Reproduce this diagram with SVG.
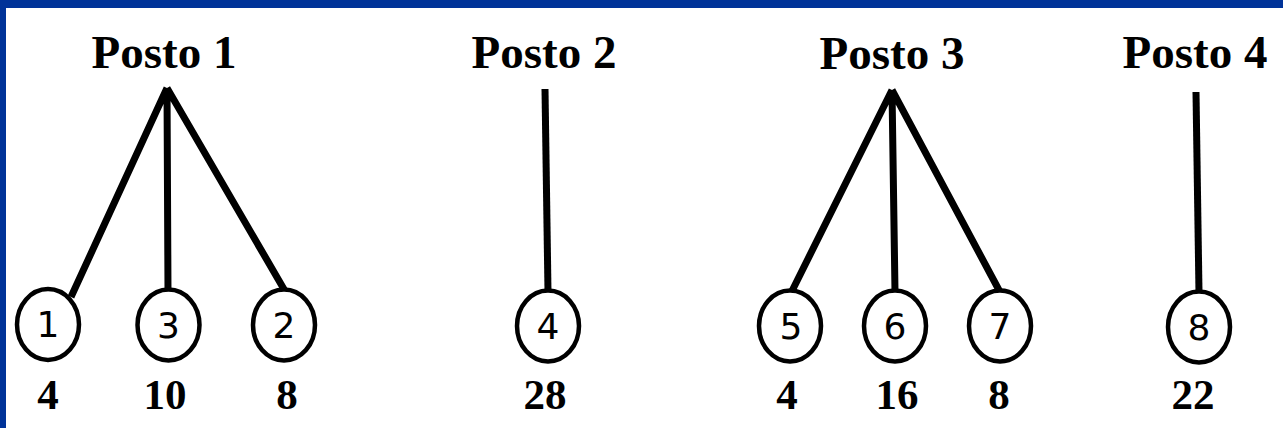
<svg xmlns="http://www.w3.org/2000/svg" width="1283" height="428" viewBox="0 0 1283 428">
<style>
.title{font-family:"Liberation Serif","Times New Roman",serif;font-weight:bold;font-size:47px;fill:#000;text-anchor:middle}
.val{font-family:"Liberation Serif","Times New Roman",serif;font-weight:bold;font-size:43px;fill:#000;text-anchor:middle}
.num{font-family:"DejaVu Sans",Verdana,sans-serif;font-size:36px;fill:#000;text-anchor:middle}
.node ellipse{fill:#fff;stroke:#000;stroke-width:4.5}
.edge{stroke:#000;stroke-width:7;fill:none;stroke-linecap:butt}
</style>
<rect x="0" y="0" width="1283" height="428" fill="#fff"/>
<rect x="0" y="0" width="1283" height="8" fill="#003399"/>
<rect x="0" y="0" width="6" height="428" fill="#003399"/>
<g id="titles">
<text id="posto1" class="title" x="164" y="68">Posto 1</text>
<text id="posto2" class="title" x="544" y="68">Posto 2</text>
<text id="posto3" class="title" x="892" y="69">Posto 3</text>
<text id="posto4" class="title" x="1195" y="68">Posto 4</text>
</g>
<g id="connectors">
<path class="edge" d="M167,88 L71,297 M167,88 L168,292 M167,88 L285,291"/>
<path class="edge" d="M545,89 L548,292"/>
<path class="edge" d="M892,90 L791,293 M892,90 L895,292 M892,90 L1000,292"/>
<path class="edge" d="M1196,92 L1199,293"/>
</g>
<g id="n1" class="node"><ellipse cx="48" cy="324.5" rx="31" ry="35.5"/><text class="num" x="48" y="337">1</text><text class="val" x="48" y="409">4</text></g>
<g id="n3" class="node"><ellipse cx="168.5" cy="325" rx="31" ry="35.5"/><text class="num" x="168.5" y="338">3</text><text class="val" x="165" y="409">10</text></g>
<g id="n2" class="node"><ellipse cx="284" cy="325" rx="31" ry="35.5"/><text class="num" x="284" y="338">2</text><text class="val" x="287" y="409">8</text></g>
<g id="n4" class="node"><ellipse cx="548" cy="326" rx="31" ry="35.5"/><text class="num" x="548" y="339">4</text><text class="val" x="545" y="409">28</text></g>
<g id="n5" class="node"><ellipse cx="790" cy="326" rx="31" ry="35.5"/><text class="num" x="791" y="339">5</text><text class="val" x="787" y="409">4</text></g>
<g id="n6" class="node"><ellipse cx="895" cy="326" rx="31" ry="35.5"/><text class="num" x="895" y="339">6</text><text class="val" x="897" y="409">16</text></g>
<g id="n7" class="node"><ellipse cx="1000" cy="326" rx="31" ry="35.5"/><text class="num" x="1000" y="339">7</text><text class="val" x="999" y="409">8</text></g>
<g id="n8" class="node"><ellipse cx="1199" cy="327" rx="31" ry="35.5"/><text class="num" x="1199" y="340">8</text><text class="val" x="1193" y="409">22</text></g>
</svg>
